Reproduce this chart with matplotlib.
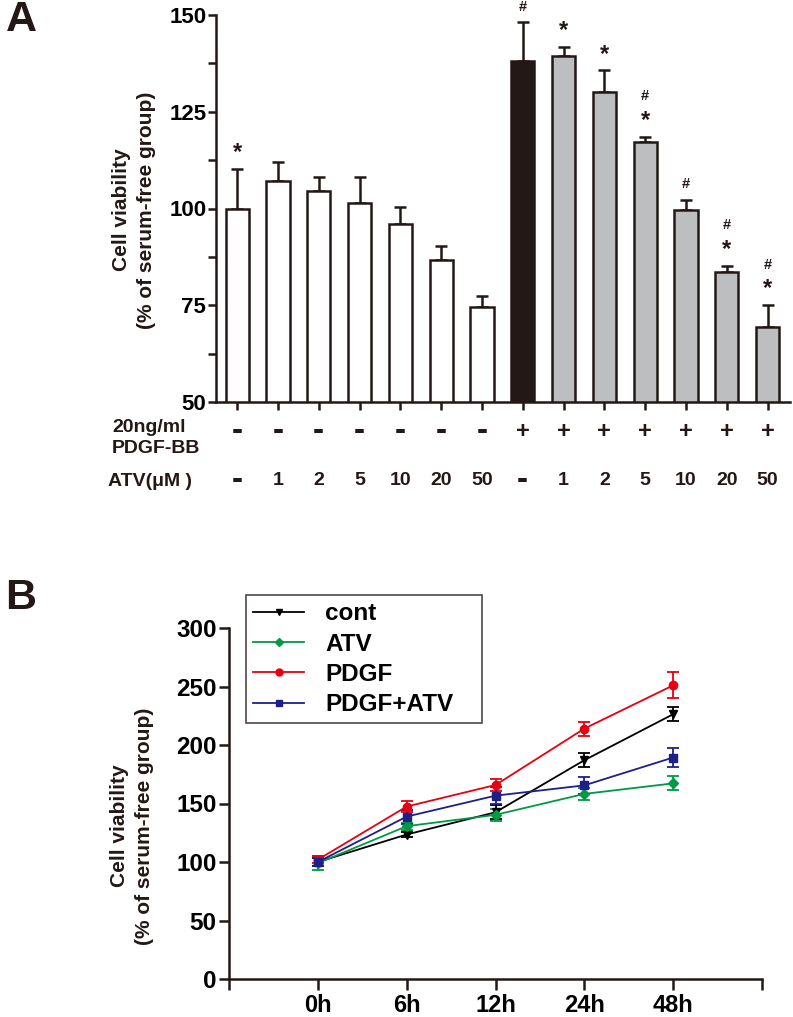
import matplotlib
matplotlib.use('Agg')
import matplotlib.pyplot as plt
from matplotlib.lines import Line2D
import numpy as np

plt.rcParams['font.family'] = ['Liberation Sans', 'DejaVu Sans']
plt.rcParams['font.weight'] = 'bold'
plt.rcParams['axes.labelweight'] = 'bold'

# ---- panel A data
viab = [100, 107, 104.4, 101.5, 96.1, 86.6, 74.6, 138.1, 139.3, 130.0, 117.3, 99.5, 83.5, 69.3]
viab_err = [10.3, 5.1, 3.8, 6.7, 4.4, 3.6, 2.8, 10.0, 2.4, 5.7, 1.2, 2.8, 1.7, 5.7]
pdgf_row = ['-'] * 7 + ['+'] * 7
atv_row = ['-', '1', '2', '5', '10', '20', '50', '-', '1', '2', '5', '10', '20', '50']
sig = ['*', '', '', '', '', '', '', '#', '*', '*', '#*', '#', '#*', '#*']
bar_colors = ['white'] * 7 + ['#231815'] + ['#bdbec0'] * 6

# ---- panel B data
times = ['0h', '6h', '12h', '24h', '48h']
cont = [100, 123.5, 142.5, 187.0, 226.3]
cont_err = [3, 2, 6, 6, 6]
atv = [99, 130.6, 140.3, 158.2, 167.2]
atv_err = [6, 3, 5, 5, 6]
pdgf = [102, 147.4, 165.8, 214.0, 251.0]
pdgf_err = [3, 5, 5, 6, 11]
combo = [100, 138.8, 156.7, 165.5, 189.3]
combo_err = [3, 6, 7, 7, 8]

W, H = 793, 1017
fig = plt.figure(figsize=(W / 100, H / 100), dpi=100)

def box(l, t, r, b):
    return [l / W, 1 - b / H, (r - l) / W, (b - t) / H]

ink = '#231815'

# ================= A
ax = fig.add_axes(box(216, 15, 790, 402))
x = np.arange(len(viab))
ax.bar(x, viab, width=0.57, color=bar_colors, edgecolor=ink, linewidth=1.8, zorder=2)
ax.errorbar(x, viab, yerr=[np.zeros(len(viab)), viab_err], fmt='none', ecolor=ink,
            elinewidth=1.8, capsize=4.5, capthick=1.8, zorder=1)
ax.set_xlim(-0.52, 13.55)
ax.set_ylim(50, 150)
ax.set_yticks([50, 75, 100, 125, 150])
ax.set_yticks([62.5, 87.5, 112.5, 137.5], minor=True)
ax.set_xticks(x)
ax.set_xticklabels([])
for s in ['top', 'right']:
    ax.spines[s].set_visible(False)
for s in ['left', 'bottom']:
    ax.spines[s].set_linewidth(1.8)
    ax.spines[s].set_color(ink)
ax.tick_params(axis='both', which='both', direction='out', length=6, width=1.8, color=ink,
               labelsize=16, pad=1)
for lab in ax.get_yticklabels():
    lab.set_fontweight('bold')

for i in range(len(viab)):
    top = viab[i] + viab_err[i]
    s = sig[i]
    if '*' in s:
        ax.text(i, top + 4.2, '*', ha='center', va='center', fontsize=17, fontweight='bold', color=ink)
        if '#' in s:
            ax.text(i, top + 10.5, '#', ha='center', va='center', fontsize=10.5, fontweight='bold', color=ink)
    elif s == '#':
        ax.text(i, top + 4.0, '#', ha='center', va='center', fontsize=10.5, fontweight='bold', color=ink)

trans = ax.get_xaxis_transform()
for i in range(len(viab)):
    ax.text(i, -0.075, pdgf_row[i], transform=trans, ha='center', va='center',
            fontsize=24 if pdgf_row[i] == '-' else 17, fontweight='bold', color=ink, clip_on=False)
    ax.text(i, -0.204, atv_row[i], transform=trans, ha='center', va='center',
            fontsize=24 if atv_row[i] == '-' else 14, fontweight='bold', color=ink, clip_on=False)

fig.text(112 / W, 1 - 438 / H, '20ng/ml\nPDGF-BB', ha='left', va='center', fontsize=14,
         fontweight='bold', color=ink, linespacing=1.3)
fig.text(108 / W, 1 - 481 / H, 'ATV(\u03bcM )', ha='left', va='center', fontsize=14,
         fontweight='bold', color=ink)
fig.text(134 / W, 1 - 210 / H, 'Cell viability\n(% of serum-free group)', rotation=90,
         ha='center', va='center', fontsize=15, fontweight='bold', color=ink, linespacing=1.35)
fig.text(21 / W, 1 - 20 / H, 'A', ha='center', va='center', fontsize=31, fontweight='bold', color=ink)

# ================= B
bx = fig.add_axes(box(229, 628, 762, 979))
xp = np.arange(1, len(times) + 1)
series = [
    (cont, cont_err, 'black', 'v', 'cont'),
    (atv, atv_err, '#009944', 'D', 'ATV'),
    (pdgf, pdgf_err, '#e60012', 'o', 'PDGF'),
    (combo, combo_err, '#1d2088', 's', 'PDGF+ATV'),
]
handles = []
for vals, err, col, mk, name in series:
    ms = 5 if mk == 'D' else 6
    bx.errorbar(xp, vals, yerr=err, color=col, marker=mk, markersize=ms,
                linewidth=1.3, elinewidth=1.3, capsize=4, capthick=1.3)
    handles.append(Line2D([], [], color=col, marker=mk, markersize=ms - 1, linewidth=1.3, label=name))
bx.set_xlim(0, 6)
bx.set_ylim(0, 300)
bx.set_yticks(np.arange(0, 301, 50))
bx.set_xticks(range(0, 7))
bx.set_xticklabels([''] + times + [''])
for s in ['top', 'right']:
    bx.spines[s].set_visible(False)
for s in ['left', 'bottom']:
    bx.spines[s].set_linewidth(1.8)
    bx.spines[s].set_color(ink)
bx.tick_params(axis='y', direction='out', length=7, width=1.8, color=ink, labelsize=17.5, pad=2)
bx.tick_params(axis='x', direction='out', length=8, width=1.8, color=ink, labelsize=17, pad=3)
for lab in bx.get_xticklabels() + bx.get_yticklabels():
    lab.set_fontweight('bold')

leg = bx.legend(handles=handles, loc='upper left',
                bbox_to_anchor=(246 / W, 1 - 726 / H, 236 / W, 131 / H), mode='expand',
                bbox_transform=fig.transFigure, frameon=True, fancybox=False,
                handlelength=2.1, handletextpad=0.85, labelspacing=0.3, borderpad=0.3,
                borderaxespad=0, prop={'weight': 'bold', 'size': 17.5})
leg.get_frame().set_edgecolor(ink)
leg.get_frame().set_linewidth(1.2)

fig.text(132 / W, 1 - 826 / H, 'Cell viability\n(% of serum-free group)', rotation=90,
         ha='center', va='center', fontsize=15, fontweight='bold', color=ink, linespacing=1.35)
fig.text(21 / W, 1 - 598 / H, 'B', ha='center', va='center', fontsize=31, fontweight='bold', color=ink)

fig.savefig('out.png', dpi=100)
